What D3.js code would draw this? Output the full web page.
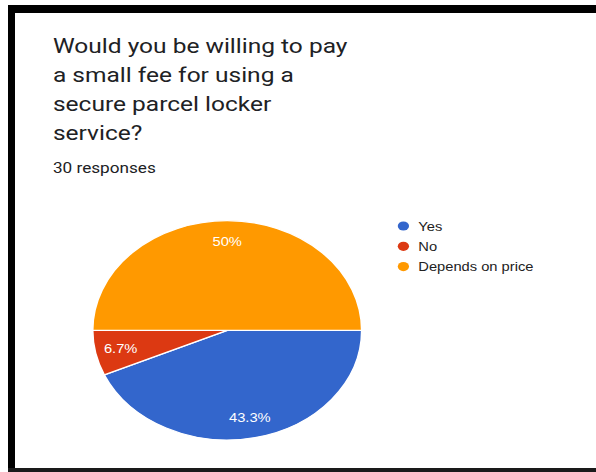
<!DOCTYPE html>
<html>
<head>
<meta charset="utf-8">
<script src="https://cdn.jsdelivr.net/npm/d3@7"></script>
<style>
  html, body { margin: 0; padding: 0; background: #fff; overflow: hidden; }
  svg { display: block; }
</style>
</head>
<body>
<svg id="chart" width="596" height="472"></svg>
<script>
// Survey question and answers
const titleLines = [
  "Would you be willing to pay",
  "a small fee for using a",
  "secure parcel locker",
  "service?"
];
const responseNote = "30 responses";
const categories = ["Yes", "No", "Depends on price"];
const counts = [13, 2, 15];
const colors = ["#3366cc", "#dc3912", "#ff9900"];

const W = 596, H = 472;
const sx = 1.226; // horizontal stretch of the whole card

const svg = d3.select("#chart");

// card frame: left, top and bottom bands
svg.append("rect").attr("x", 8).attr("y", 5).attr("width", W).attr("height", 8).attr("fill", "#000");
svg.append("rect").attr("x", 8).attr("y", 9).attr("width", 7).attr("height", H).attr("fill", "#000");
svg.append("rect").attr("x", 8).attr("y", H - 4).attr("width", W).attr("height", 4).attr("fill", "#1a1a1a");

const g = svg.append("g").attr("transform", `scale(${sx},1)`);

// title
const title = g.append("g")
  .attr("font-family", "Roboto, sans-serif")
  .attr("font-size", 20)
  .attr("fill", "#202124");
title.selectAll("text")
  .data(titleLines)
  .join("text")
  .attr("x", 43.2)
  .attr("y", (d, i) => 53 + i * 29)
  .text(d => d);

g.append("text")
  .attr("x", 43.2).attr("y", 173)
  .attr("font-family", "Roboto, sans-serif")
  .attr("font-size", 14)
  .attr("fill", "#202124")
  .text(responseNote);

// pie
const total = d3.sum(counts);
const data = categories.map((c, i) => ({ name: c, value: counts[i], color: colors[i] }));
const r = 109.7;
const cx = 227.2 / sx, cy = 330.3;

const pie = d3.pie()
  .value(d => d.value)
  .sort(null)
  .startAngle(Math.PI / 2)
  .endAngle(Math.PI / 2 + 2 * Math.PI);
const arcs = pie(data);

const arc = d3.arc().innerRadius(0).outerRadius(r);
const labelArc = d3.arc().innerRadius(r * 0.81).outerRadius(r * 0.81);

const pg = g.append("g").attr("transform", `translate(${cx},${cy})`);
pg.selectAll("path")
  .data(arcs)
  .join("path")
  .attr("d", arc)
  .attr("fill", d => d.data.color)
  .attr("stroke", "#fff")
  .attr("stroke-width", 1.3);

const fmt = v => {
  const p = Math.round(v / total * 1000) / 10;
  return (p % 1 === 0 ? p.toFixed(0) : p.toFixed(1)) + "%";
};

pg.selectAll("text")
  .data(arcs)
  .join("text")
  .attr("x", d => labelArc.centroid(d)[0])
  .attr("y", d => labelArc.centroid(d)[1] + 4.3)
  .attr("text-anchor", "middle")
  .attr("font-family", "Arial, 'Liberation Sans', sans-serif")
  .attr("font-size", 12)
  .attr("fill", "#ffffff")
  .text(d => fmt(d.data.value));

// legend
const lg = g.append("g")
  .attr("font-family", "Arial, 'Liberation Sans', sans-serif")
  .attr("font-size", 12)
  .attr("fill", "#222");
const item = lg.selectAll("g")
  .data(data)
  .join("g")
  .attr("transform", (d, i) => `translate(0,${226 + i * 20.3})`);
item.append("circle")
  .attr("cx", 403.4 / sx)
  .attr("cy", 0)
  .attr("r", 4.6)
  .attr("fill", d => d.color);
item.append("text")
  .attr("x", 418.3 / sx)
  .attr("y", 4.6)
  .text(d => d.name);
</script>
</body>
</html>
